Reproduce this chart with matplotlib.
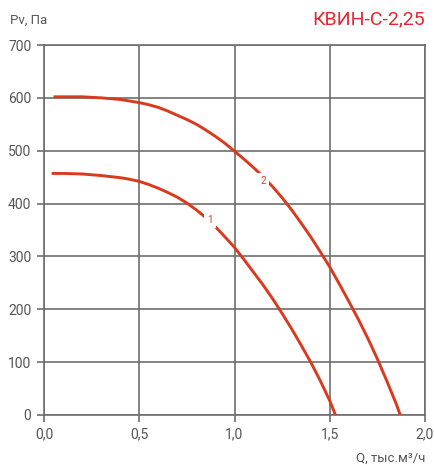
import numpy as np
import matplotlib.pyplot as plt

plt.rcParams['font.family'] = ['Roboto', 'DejaVu Sans']

# curve 1
q1 = [0.04, 0.1, 0.2, 0.3, 0.4, 0.45, 0.5, 0.55, 0.6, 0.65, 0.7, 0.75, 0.8, 0.85, 0.9, 0.95,
      1.0, 1.05, 1.1, 1.15, 1.2, 1.25, 1.3, 1.35, 1.4, 1.45, 1.5, 1.53]
p1 = [457, 457, 456, 453, 449, 446, 442, 436, 429, 421, 412, 401, 388, 373, 356, 337,
      317, 294, 270, 246, 220, 192, 163, 132, 100, 65, 27, 0]
# curve 2
q2 = [0.05, 0.1, 0.2, 0.3, 0.4, 0.45, 0.5, 0.55, 0.6, 0.65, 0.7, 0.75, 0.8, 0.85, 0.9, 0.95,
      1.0, 1.05, 1.1, 1.15, 1.2, 1.25, 1.3, 1.35, 1.4, 1.45, 1.5, 1.55, 1.6, 1.65, 1.7, 1.75,
      1.8, 1.85, 1.87]
p2 = [602, 602, 602, 600, 597, 594, 591, 587, 582, 575, 567, 559, 550, 539, 527, 514,
      499, 484, 468, 451, 432, 411, 388, 363, 337, 309, 280, 248, 215, 181, 145, 106,
      64, 20, 0]

xticks = [0.0, 0.5, 1.0, 1.5, 2.0]
xtick_labels = ['0,0', '0,5', '1,0', '1,5', '2,0']
yticks = [0, 100, 200, 300, 400, 500, 600, 700]

red = '#d93a1e'
grey = '#6e6e6e'
txt = '#555555'

fig = plt.figure(figsize=(4.34, 4.66), dpi=100)
ax = fig.add_axes([44 / 434, 1 - 415 / 466, 381 / 434, 370 / 466])

ax.plot(q1, p1, color=red, lw=2.1, solid_capstyle='butt', solid_joinstyle='round', zorder=3)
ax.plot(q2, p2, color=red, lw=2.1, solid_capstyle='butt', solid_joinstyle='round', zorder=3)

for lbl, x, y in [('1', 0.87, 369), ('2', 1.15, 442)]:
    ax.text(x, y, lbl, color=red, fontsize=7, ha='center', va='center', zorder=4,
            bbox=dict(boxstyle='square,pad=0.35', fc='white', ec='none'))

ax.set_xlim(0, 2.0)
ax.set_ylim(0, 700)
ax.set_xticks(xticks)
ax.set_xticklabels(xtick_labels)
ax.set_yticks(yticks)
ax.grid(True, color=grey, lw=1.2)
ax.set_axisbelow(True)
for s in ax.spines.values():
    s.set_color(grey)
    s.set_linewidth(1.2)
ax.tick_params(colors=txt, labelsize=10, length=5, width=1.2, color=grey, pad=4)

fig.text(10 / 434, 1 - 20 / 466, 'Pv, Па', color=txt, fontsize=9.5, va='center', ha='left')
fig.text(425 / 434, 1 - 19 / 466, 'КВИН-С-2,25', color='#e8262d', fontsize=14, va='center', ha='right')
fig.text(425 / 434, 1 - 458 / 466, 'Q, тыс.м³/ч', color=txt, fontsize=9.5, va='center', ha='right')

fig.savefig('out.png', dpi=100)
